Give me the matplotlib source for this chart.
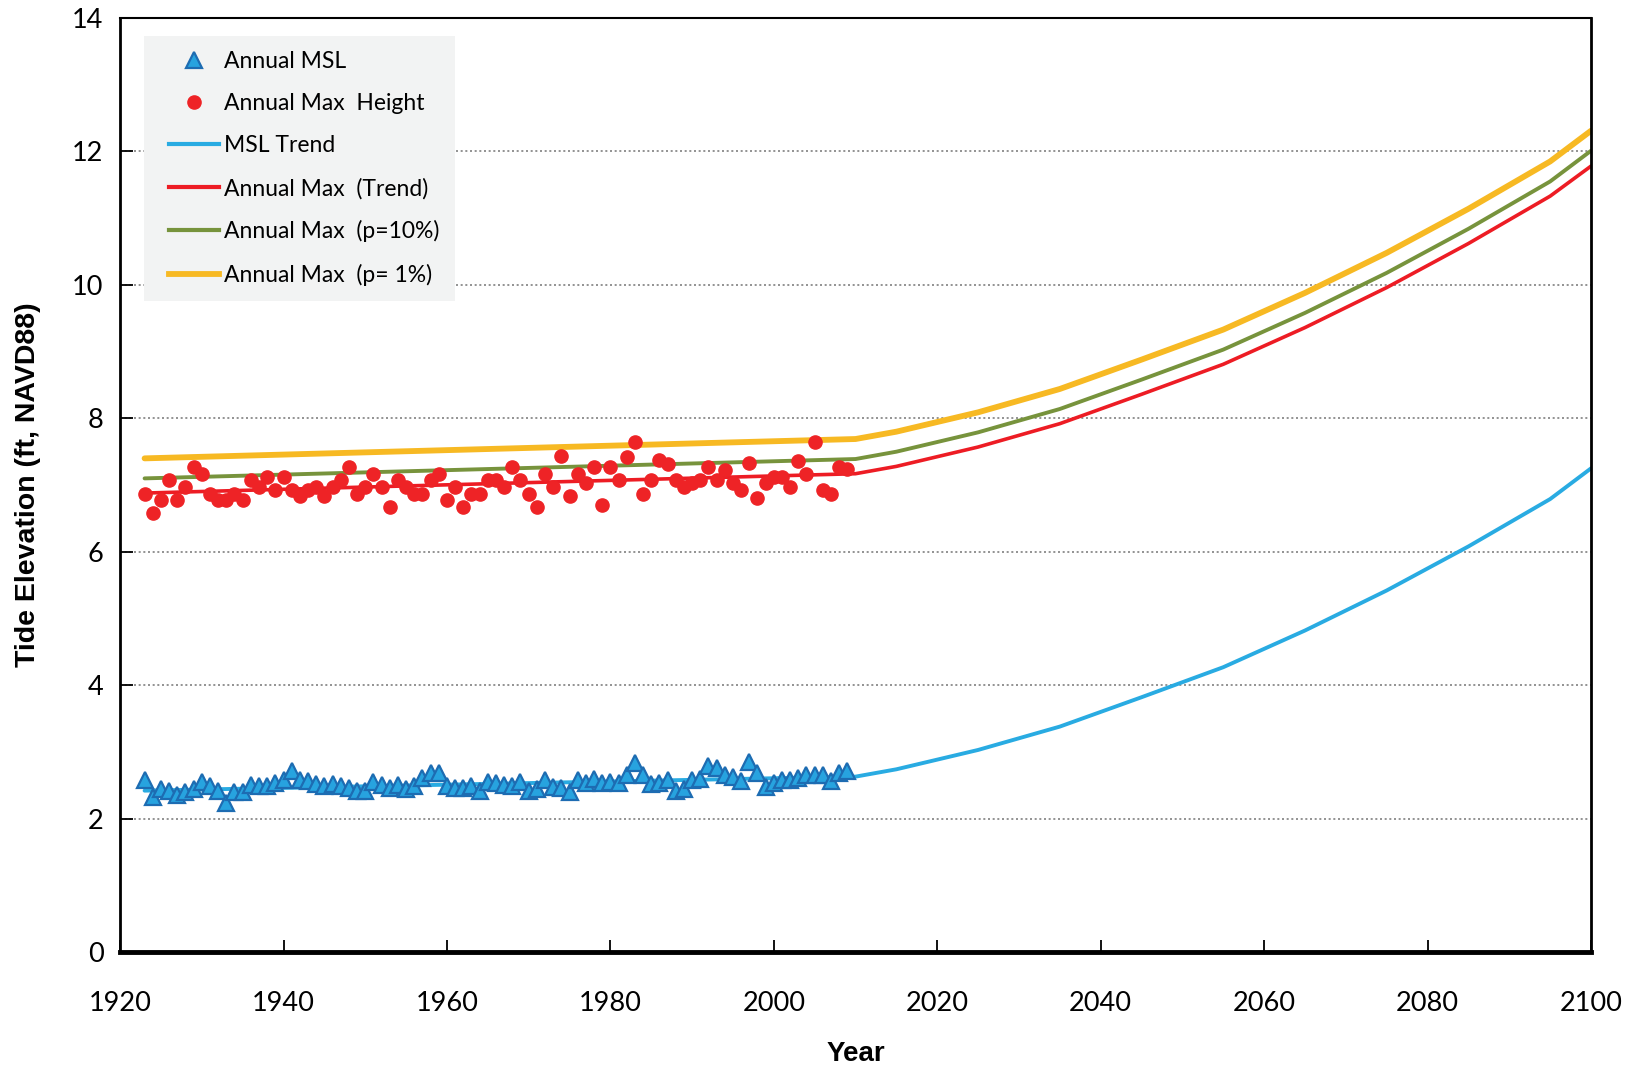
import matplotlib
matplotlib.use("Agg")
import matplotlib.pyplot as plt
from matplotlib.lines import Line2D
from matplotlib.legend_handler import HandlerLine2D

obs_years = list(range(1923, 2010))
annual_max = [6.87, 6.58, 6.78, 7.08, 6.78, 6.97, 7.27, 7.17, 6.87, 6.78,
              6.78, 6.87, 6.78, 7.08, 6.97, 7.12, 6.92, 7.12, 6.92, 6.83,
              6.92, 6.97, 6.83, 6.97, 7.08, 7.27, 6.87, 6.97, 7.17, 6.97,
              6.67, 7.08, 6.97, 6.87, 6.87, 7.08, 7.17, 6.78, 6.97, 6.67,
              6.87, 6.87, 7.08, 7.08, 6.97, 7.27, 7.08, 6.87, 6.67, 7.17,
              6.97, 7.44, 6.83, 7.17, 7.03, 7.27, 6.70, 7.27, 7.08, 7.42,
              7.64, 6.87, 7.08, 7.37, 7.31, 7.08, 6.97, 7.03, 7.08, 7.27,
              7.08, 7.22, 7.03, 6.92, 7.33, 6.81, 7.03, 7.12, 7.12, 6.97,
              7.36, 7.17, 7.64, 6.92, 6.87, 7.27, 7.24]
annual_msl = [2.58, 2.33, 2.44, 2.41, 2.36, 2.40, 2.44, 2.55, 2.49, 2.41,
              2.24, 2.40, 2.40, 2.51, 2.49, 2.49, 2.53, 2.58, 2.71, 2.58,
              2.57, 2.52, 2.49, 2.52, 2.49, 2.46, 2.41, 2.41, 2.55, 2.51,
              2.46, 2.51, 2.44, 2.49, 2.61, 2.69, 2.68, 2.49, 2.46, 2.46,
              2.49, 2.41, 2.55, 2.53, 2.51, 2.49, 2.55, 2.41, 2.44, 2.58,
              2.48, 2.46, 2.40, 2.58, 2.53, 2.60, 2.53, 2.55, 2.53, 2.66,
              2.83, 2.66, 2.52, 2.53, 2.58, 2.41, 2.44, 2.58, 2.60, 2.79,
              2.76, 2.66, 2.63, 2.57, 2.85, 2.68, 2.48, 2.53, 2.58, 2.58,
              2.61, 2.65, 2.66, 2.66, 2.57, 2.68, 2.71]

trend_years = [1923, 2010, 2015, 2025, 2035, 2045, 2055, 2065, 2075, 2085, 2095, 2100]
msl_trend = [2.42, 2.63, 2.74, 3.03, 3.38, 3.82, 4.27, 4.82, 5.42, 6.08, 6.79, 7.25]
max_trend = [6.88, 7.17, 7.28, 7.57, 7.92, 8.36, 8.81, 9.36, 9.96, 10.62, 11.33, 11.78]
max_p10 = [7.10, 7.39, 7.50, 7.79, 8.14, 8.58, 9.03, 9.58, 10.18, 10.84, 11.55, 12.01]
max_p1 = [7.40, 7.69, 7.80, 8.09, 8.44, 8.88, 9.33, 9.88, 10.48, 11.14, 11.85, 12.31]

x_ticks = [1920, 1940, 1960, 1980, 2000, 2020, 2040, 2060, 2080, 2100]
y_ticks = [0, 2, 4, 6, 8, 10, 12, 14]

TICK_FONT = "Lato"
LABEL_FONT = "Liberation Sans"


class InsetHandler(HandlerLine2D):
    """Draw the legend line only in the right part of the handle box."""
    def get_xdata(self, legend, xdescent, ydescent, width, height, fontsize):
        start = -xdescent + 0.17 * width
        end = -xdescent + width
        return [start, end], [0.5 * (start + end)]


fig = plt.figure(figsize=(16.38, 10.71), dpi=100)
ax = fig.add_axes([0.0733, 0.111, 0.8980, 0.8722])

for y in y_ticks[1:-1]:
    ax.axhline(y, color="#808080", lw=1.2, ls=(0, (1.2, 1.6)), zorder=0)

c_blue_line = "#29abe2"
c_red = "#ed1c24"
c_green = "#77933c"
c_yellow = "#f7b923"

ax.plot(trend_years, max_p1, color=c_yellow, lw=4.2, solid_capstyle="round", zorder=2)
ax.plot(trend_years, max_p10, color=c_green, lw=2.8, solid_capstyle="round", zorder=2)
ax.plot(trend_years, max_trend, color=c_red, lw=2.6, solid_capstyle="round", zorder=2)
ax.plot(trend_years, msl_trend, color=c_blue_line, lw=2.8, solid_capstyle="round", zorder=2)

ax.plot(obs_years, annual_max, ls="none", marker="o", ms=9.5, mfc="#ee2326",
        mec="#ee2326", zorder=3)
ax.plot(obs_years, annual_msl, ls="none", marker="^", ms=11, mfc="#27a3df",
        mec="#1d6cb2", mew=1.6, zorder=3)

ax.set_xlim(1920, 2100)
ax.set_ylim(0, 14)
ax.set_xticks(x_ticks)
ax.set_yticks(y_ticks)
ax.tick_params(direction="in", length=9, width=1.3, color="black")
for lab in ax.get_xticklabels() + ax.get_yticklabels():
    lab.set_fontfamily(TICK_FONT)
    lab.set_fontsize(19.5)
ax.tick_params(axis="y", pad=12)
ax.tick_params(axis="x", pad=28)

ax.spines["left"].set_linewidth(2.0)
ax.spines["bottom"].set_linewidth(3.5)
ax.spines["top"].set_linewidth(1.5)
ax.spines["right"].set_linewidth(2.0)

ax.set_xlabel("Year", fontsize=20, fontweight="bold", family=LABEL_FONT, labelpad=18)
ax.set_ylabel("Tide Elevation (ft, NAVD88)", fontsize=20.5, fontweight="bold",
              family=LABEL_FONT, labelpad=22)

handles = [
    Line2D([], [], ls="none", marker="^", ms=11, mfc="#27a3df", mec="#1d6cb2", mew=1.6),
    Line2D([], [], ls="none", marker="o", ms=9.5, mfc="#ee2326", mec="#ee2326"),
    Line2D([], [], color=c_blue_line, lw=3),
    Line2D([], [], color=c_red, lw=3),
    Line2D([], [], color=c_green, lw=3),
    Line2D([], [], color=c_yellow, lw=4.2),
]
labels = ["Annual MSL", "Annual Max  Height", "MSL Trend", "Annual Max  (Trend)",
          "Annual Max  (p=10%)", "Annual Max  (p= 1%)"]
leg = ax.legend(handles, labels, loc="upper left", bbox_to_anchor=(0.016, 0.981),
                frameon=True, fancybox=False, facecolor="#f2f3f3", edgecolor="none",
                framealpha=1, prop={"family": TICK_FONT, "size": 16.5},
                handlelength=2.62, handletextpad=0.26, labelspacing=0.93,
                borderpad=0.65, borderaxespad=0,
                handler_map={Line2D: InsetHandler()})
leg.get_frame().set_linewidth(0)

fig.savefig("out.png", dpi=100)
